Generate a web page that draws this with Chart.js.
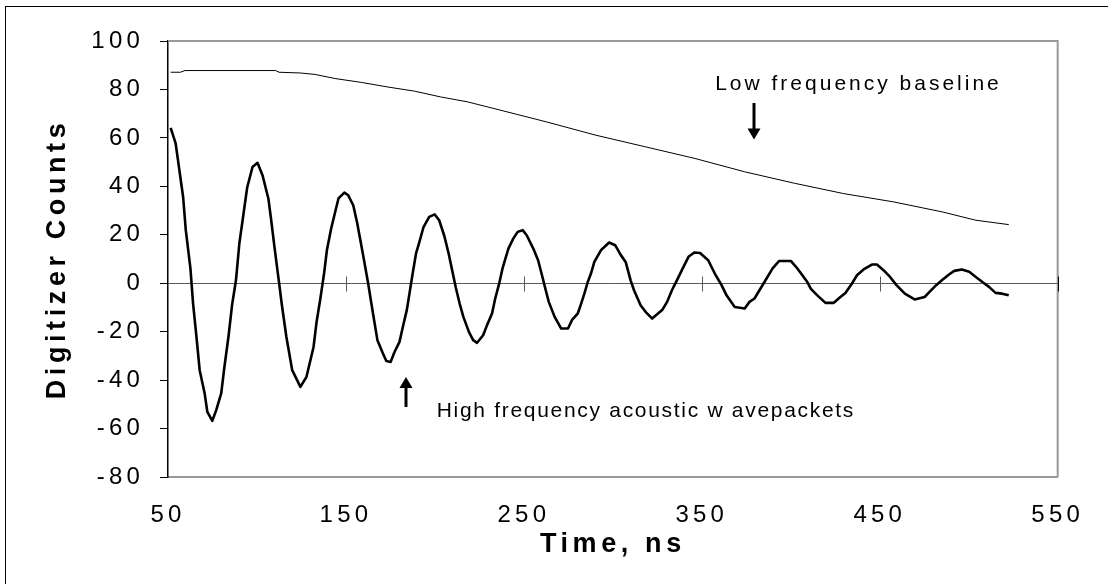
<!DOCTYPE html>
<html>
<head>
<meta charset="utf-8">
<script src="https://cdn.jsdelivr.net/npm/chart.js@4.4.1/dist/chart.umd.min.js"></script>
<style>
  html, body { margin: 0; padding: 0; background: #fff; overflow: hidden; }
  #wrap { position: relative; width: 1108px; height: 584px; }
  #frame { position: absolute; left: 5px; top: 6px; width: 1200px; height: 700px; border: 1px solid #000; pointer-events: none; }
  canvas { position: absolute; left: 0; top: 0; }
</style>
</head>
<body>
<div id="wrap">
  <canvas id="c" width="1108" height="584"></canvas>
  <div id="frame"></div>
</div>
<script>
// ---- data ----
const waveTime = [51.5,54.3,58.5,60.0,62.6,64.1,66.0,67.8,70.6,72.1,74.9,77.1,79.9,81.7,84.0,86.0,88.2,90.1,92.5,94.5,97.5,100.3,103.1,106.4,108.0,110.0,112.0,114.0,116.5,119.8,124.4,127.8,131.8,133.5,135.7,137.8,139.3,141.7,145.8,149.1,151.3,154.1,156.3,158.3,160.3,162.5,164.3,166.0,167.7,170.8,172.7,175.1,177.3,180.1,182.0,184.2,185.7,187.5,189.4,191.3,193.6,196.8,199.9,202.4,205.3,207.8,209.8,211.8,213.9,216.0,219.1,221.5,223.7,227.1,229.3,232.1,233.9,236.0,238.0,241.3,244.1,246.5,249.3,251.6,255.3,258.0,260.3,262.3,264.0,267.3,271.0,274.8,277.2,280.3,282.2,284.0,285.9,287.7,289.6,293.3,297.9,301.3,304.5,307.2,310.0,311.9,315.6,318.4,322.1,327.7,330.5,333.2,336.0,338.8,342.5,345.8,349.0,353.6,357.3,361.1,363.9,368.5,374.1,376.8,379.6,382.4,385.2,389.8,393.5,400.0,403.7,406.5,409.3,411.2,414.9,419.5,424.2,427.9,430.7,434.4,437.2,440.9,445.6,448.4,452.1,455.8,459.4,464.1,469.6,475.2,478.0,481.7,485.4,489.1,491.9,496.1,500.3,504.0,507.7,511.4,515.1,518.8,522.5];
const waveCounts = [64.1,57.7,35.6,21.9,6.1,-8.4,-22.2,-35.9,-45.5,-53.1,-56.8,-52.4,-45.5,-34.6,-22.0,-9.0,1.2,16.4,29.0,39.5,48.0,49.7,44.6,35.0,26.0,14.0,2.6,-9.0,-22.0,-35.9,-42.8,-38.7,-26.3,-16.0,-6.0,4.5,13.6,22.6,35.0,37.4,36.3,32.2,25.0,17.0,9.0,-0.1,-8.4,-16.0,-23.5,-29.0,-32.1,-32.5,-28.4,-24.2,-18.0,-11.1,-4.3,4.0,12.3,17.1,23.2,27.4,28.4,26.0,19.5,12.0,5.0,-2.0,-8.4,-13.9,-20.1,-23.5,-24.6,-21.5,-17.3,-12.5,-6.3,-0.5,6.1,14.3,18.5,21.2,21.9,19.8,14.3,9.5,3.0,-2.9,-7.7,-13.9,-18.7,-18.7,-15.0,-12.5,-8.4,-4.3,0.5,4.0,8.8,13.6,16.8,15.7,11.6,8.8,1.2,-2.9,-9.1,-11.8,-14.6,-11.1,-7.7,-2.9,1.2,5.4,10.9,12.7,12.5,9.5,4.0,-0.8,-5.0,-9.8,-10.4,-7.7,-6.3,-2.9,0.5,6.1,9.2,9.2,6.1,3.3,0.5,-2.2,-5.0,-8.1,-8.1,-5.7,-4.0,-0.1,3.3,5.7,7.7,7.7,5.4,2.6,-0.8,-4.3,-6.7,-5.7,-3.6,-0.8,1.5,3.7,5.1,5.7,4.7,2.6,0.5,-1.5,-4.0,-4.3,-5.0];
const baseTime = [51.5,57.0,59.5,110.5,112.4,124.4,132.7,143.9,158.7,173.6,188.5,203.3,218.2,234.9,262.7,290.5,318.4,346.2,374.1,401.9,429.7,457.6,485.4,504.0,522.5];
const baseCounts = [87.1,87.1,87.8,87.8,87.1,86.8,86.2,84.5,82.9,81.0,79.3,76.9,74.9,71.8,66.6,61.1,56.3,51.5,46.0,41.3,37.0,33.6,29.4,26.0,24.2];
const xTicks = [50,150,250,350,450,550];
const yTicks = [-80,-60,-40,-20,0,20,40,60,80,100];
const xTitle = 'Time, ns';
const yTitle = 'Digitizer Counts';
const noteLow = 'Low frequency baseline';
const noteHigh = 'High frequency acoustic w avepackets';

const FONT = "'Liberation Sans', Arial, sans-serif";
const TICK_LS = '4.2px';
const TITLE_LS = '4.6px';

const spacingPlugin = {
  id: 'spacing',
  beforeUpdate(chart) { chart.ctx.letterSpacing = TICK_LS; },
  beforeLayout(chart) { chart.ctx.letterSpacing = TICK_LS; },
  beforeDraw(chart) {
    chart.ctx.letterSpacing = TICK_LS;
    for (const s of Object.values(chart.scales)) {
      if (!s._lsPatched) {
        const orig = s.drawTitle.bind(s);
        s.drawTitle = function () {
          const c = this.ctx;
          const prev = c.letterSpacing;
          c.letterSpacing = TITLE_LS;
          orig();
          c.letterSpacing = prev;
        };
        s._lsPatched = true;
      }
    }
  }
};

const framePlugin = {
  id: 'frame',
  beforeDatasetsDraw(chart) {
    const { ctx, chartArea: a, scales: { x, y } } = chart;
    ctx.save();
    ctx.lineWidth = 2;
    ctx.strokeStyle = '#999';
    ctx.beginPath();
    ctx.moveTo(a.left, a.top);
    ctx.lineTo(a.right, a.top);
    ctx.lineTo(a.right, a.bottom);
    ctx.stroke();
    const y0 = Math.round(y.getPixelForValue(0)) + 0.5;
    ctx.lineWidth = 1;
    ctx.strokeStyle = '#5a5a5a';
    ctx.beginPath();
    ctx.moveTo(a.left, y0);
    ctx.lineTo(a.right, y0);
    ctx.stroke();
    xTicks.slice(1).forEach((t, i, arr) => {
      const px = Math.round(x.getPixelForValue(t)) + 0.5;
      ctx.strokeStyle = i === arr.length - 1 ? '#000' : '#5a5a5a';
      ctx.beginPath();
      ctx.moveTo(px, y0 - 7);
      ctx.lineTo(px, y0 + 8);
      ctx.stroke();
    });
    ctx.restore();
  },
  afterDatasetsDraw(chart) {
    const { ctx, scales: { x, y } } = chart;
    ctx.save();
    ctx.fillStyle = '#000';
    ctx.strokeStyle = '#000';
    ctx.font = '21px ' + FONT;
    ctx.textBaseline = 'alphabetic';
    ctx.textAlign = 'left';
    ctx.letterSpacing = '3px';
    ctx.fillText(noteLow, x.getPixelForValue(357.5), y.getPixelForValue(79.7));
    ctx.letterSpacing = '1.7px';
    ctx.fillText(noteHigh, x.getPixelForValue(201), y.getPixelForValue(-55.2));
    ctx.letterSpacing = '0px';
    const arrow = (xv, yFrom, yTo) => {
      const px = Math.round(x.getPixelForValue(xv));
      const p1 = y.getPixelForValue(yFrom), p2 = y.getPixelForValue(yTo);
      const dir = Math.sign(p2 - p1);
      ctx.lineWidth = 3;
      ctx.beginPath();
      ctx.moveTo(px, p1);
      ctx.lineTo(px, p2 - dir * 10);
      ctx.stroke();
      ctx.beginPath();
      ctx.moveTo(px - 6.5, p2 - dir * 11);
      ctx.lineTo(px + 6.5, p2 - dir * 11);
      ctx.lineTo(px, p2);
      ctx.closePath();
      ctx.fill();
    };
    arrow(379.6, 74.4, 59.3);
    arrow(183.5, -51.1, -38.7);
    ctx.restore();
  }
};

const ctx = document.getElementById('c').getContext('2d');
new Chart(ctx, {
  type: 'line',
  data: {
    datasets: [
      {
        label: 'baseline',
        data: baseTime.map((t, i) => ({ x: t, y: baseCounts[i] })),
        borderColor: '#000',
        borderWidth: 1,
        pointRadius: 0,
        tension: 0,
        fill: false
      },
      {
        label: 'wave',
        data: waveTime.map((t, i) => ({ x: t, y: waveCounts[i] })),
        borderColor: '#000',
        borderWidth: 2.6,
        pointRadius: 0,
        tension: 0,
        fill: false,
        borderJoinStyle: 'round'
      }
    ]
  },
  options: {
    responsive: false,
    devicePixelRatio: 1,
    animation: false,
    events: [],
    layout: { padding: { left: 0, top: 41, right: 42, bottom: 0 } },
    plugins: { legend: { display: false }, tooltip: { enabled: false } },
    scales: {
      x: {
        type: 'linear',
        min: 50, max: 550,
        afterBuildTicks(scale) { scale.ticks = xTicks.map(v => ({ value: v })); },
        afterFit(scale) { scale.height = 107; },
        grid: { display: true, drawOnChartArea: false, drawTicks: false, color: 'rgba(0,0,0,0)' },
        border: { display: true, color: '#999', width: 2 },
        ticks: { color: '#000', font: { family: FONT, size: 24 }, padding: 24, maxRotation: 0, autoSkip: false },
        title: { display: true, text: xTitle, color: '#000', font: { family: FONT, size: 27, weight: 'bold' }, padding: { top: 0, bottom: 23 } }
      },
      y: {
        type: 'linear',
        min: -80, max: 100,
        afterBuildTicks(scale) { scale.ticks = yTicks.map(v => ({ value: v })); },
        afterFit(scale) { scale.width = 168; },
        grid: { display: true, drawOnChartArea: false, drawTicks: true, tickLength: 8, color: '#000', lineWidth: 1 },
        border: { display: true, color: '#000', width: 1.5 },
        ticks: { color: '#000', font: { family: FONT, size: 24 }, padding: 16, autoSkip: false },
        title: { display: true, text: yTitle, color: '#000', font: { family: FONT, size: 27, weight: 'bold' }, padding: { top: 41, bottom: 0 } }
      }
    }
  },
  plugins: [spacingPlugin, framePlugin]
});
</script>
</body>
</html>
